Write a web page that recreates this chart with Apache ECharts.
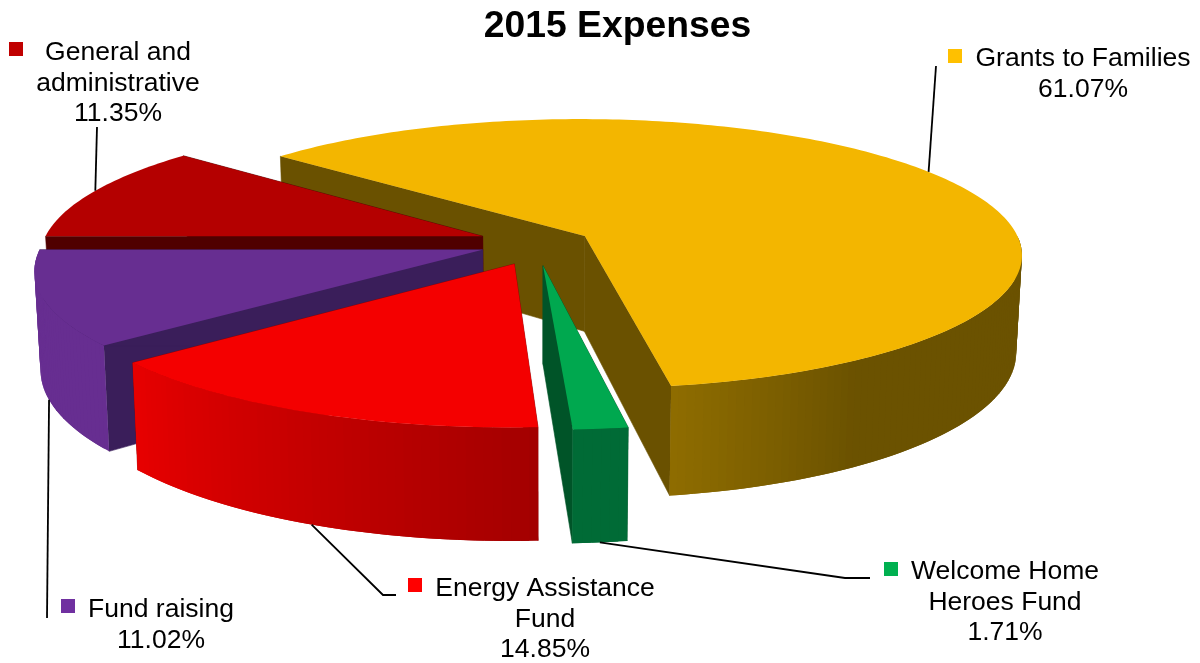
<!DOCTYPE html>
<html>
<head>
<meta charset="utf-8">
<style>html,body{margin:0;padding:0;background:#fff}#chart{width:1200px;height:663px}</style>
<script src="https://cdn.jsdelivr.net/npm/echarts@6/dist/echarts.min.js"></script>
</head>
<body>
<div id="chart"></div>
<script>
// Expense shares, in drawing order clockwise from the first cut.
const categories = ['Grants to Families', 'Welcome Home Heroes Fund', 'Energy Assistance Fund', 'Fund raising', 'General and administrative'];
const shares = [61.07, 1.71, 14.85, 11.02, 11.35];
const labelLines = [
  ['Grants to Families'],
  ['Welcome Home', 'Heroes Fund'],
  ['Energy Assistance', 'Fund'],
  ['Fund raising'],
  ['General and', 'administrative']
];

// Slice appearance.
const keyColors = ['#FFC000', '#00B050', '#FF0000', '#7030A0', '#C00000'];
const topColors = ['#F3B600', '#00A84F', '#F40000', '#672E91', '#B40000'];
const cutColors = ['#6A5100', '#005428', '#8A0000', '#3A1E5A', '#500000'];
// Outer wall shade as [clock angle, colour] stops.
const wallStops = [
  [[0, '#6B5200'], [147, '#6B5200'], [171, '#8F6D00']],
  [[0, '#006B36'], [360, '#006B36']],
  [[177, '#A30000'], [231, '#E80000']],
  [[0, '#672E91'], [360, '#672E91']],
  [[0, '#8A0000'], [360, '#8A0000']]
];
const explode = [0.107, 0.165, 0.165, 0.145, 0.145];
const sliceScale = [0.99, 1, 1, 1, 1];
const sliceShiftX = [2, -7, 2, 1, 0];

// Scene parameters: plan circle, tilt, perspective and rim depth.
const firstCut = 310.86;
const scene = { cx: 542, cy: 243, R: 440, tilt: 135.5, persp: 0.134, depth: 96, converge: 0.012 };

// Label placement: line-centre x, first-line y, key corner, leader's place on the rim and its elbow points.
const lineGap = 30.7;
const labelPlaces = [
  { x: 1083, y: 59, keyX: 948, keyY: 49, rim: 0, along: 0.491, leader: [[936, 66]] },
  { x: 1005, y: 571.5, keyX: 884, keyY: 562, rim: 1, along: 0.5, leader: [[845, 578], [870, 578]] },
  { x: 545, y: 588.5, keyX: 408, keyY: 578, rim: 1, along: 0.49, leader: [[383, 595], [396, 595]] },
  { x: 161, y: 609.5, keyX: 61, keyY: 599, rim: 1, along: 0.5, leader: [[47, 618]] },
  { x: 118, y: 52.5, keyX: 9, keyY: 42, rim: 0, along: 0.51, leader: [[97, 127]] }
];

const FONT = '"Liberation Sans", Arial, sans-serif';
const total = shares.reduce((a, b) => a + b, 0);
const rad = d => d * Math.PI / 180;

// Clock-angle span of each slice.
const spans = [];
shares.reduce((from, v) => {
  const to = from + v / total * 360;
  spans.push([from, to]);
  return to;
}, firstCut);

// Plan point -> screen point; z is 0 on the top face and 1 on the base.
function project(u, v, z) {
  const s = 1 / (1 - scene.persp * v);
  const k = 1 - scene.converge * z;
  return [
    scene.cx + scene.R * u * s * k,
    scene.cy + scene.tilt * v * s + z * scene.depth * s
  ];
}
function planAt(angle, r, off) {
  return [off[0] + r * Math.sin(rad(angle)), off[1] - r * Math.cos(rad(angle))];
}
function wallColor(stops, angle) {
  const a = ((angle % 360) + 360) % 360;
  for (let i = 1; i < stops.length; i++) {
    if (a <= stops[i][0]) {
      const t = (a - stops[i - 1][0]) / (stops[i][0] - stops[i - 1][0]);
      return echarts.color.lerp(Math.max(0, t), [stops[i - 1][1], stops[i][1]]);
    }
  }
  return stops[stops.length - 1][1];
}

function renderSlice(params, api) {
  const i = params.dataIndex;
  const [a0, a1] = spans[i];
  const mid = (a0 + a1) / 2;
  const off = planAt(mid, explode[i], [0, 0]);
  // Slices further from the viewer are painted first.
  const rank = Math.round((off[1] / explode[i] + 1) * 100);
  const base = rank * 10;
  const P = (angle, r, z) => {
    const p = planAt(angle, r * sliceScale[i], off);
    const q = project(p[0], p[1], z);
    return [q[0] + sliceShiftX[i], q[1]];
  };
  const children = [];
  const poly = (points, fill, z2, seal) => children.push({
    type: 'polygon', silent: true, z2: z2,
    shape: { points: points },
    style: seal ? { fill: fill, stroke: fill, lineWidth: 0.6 } : { fill: fill }
  });

  // Cut faces
  [a0, a1].forEach(a => {
    poly([P(a, 0, 0), P(a, 1, 0), P(a, 1, 1), P(a, 0, 1)], cutColors[i], base, true);
  });

  // Outer wall, only the part turned toward the viewer. Each strip runs
  // under the next one so no seams show between them.
  const step = 1;
  let strip = 0;
  for (let a = a0; a < a1; a += step) {
    const b = Math.min(a + step, a1);
    if (-Math.cos(rad((a + b) / 2)) < 0) continue;
    const over = Math.min(b + step, a1);
    poly([P(a, 1, 0), P(over, 1, 0), P(over, 1, 1), P(a, 1, 1)], wallColor(wallStops[i], (a + b) / 2), base + 1 + (++strip) * 0.001);
  }

  // Top face
  const top = [P(a0, 0, 0)];
  for (let a = a0; a < a1; a += step) top.push(P(a, 1, 0));
  top.push(P(a1, 1, 0));
  poly(top, topColors[i], base + 2);

  // Leader and label
  const place = labelPlaces[i];
  const start = P(a0 + (a1 - a0) * place.along, 1, place.rim);
  children.push({
    type: 'polyline', silent: true, z2: 5000,
    shape: { points: [start].concat(place.leader) },
    style: { stroke: '#000', lineWidth: 1.8, fill: null }
  });
  children.push({
    type: 'rect', silent: true, z2: 5000,
    shape: { x: place.keyX, y: place.keyY, width: 14, height: 14 },
    style: { fill: keyColors[i] }
  });
  labelLines[i].concat([api.value(0).toFixed(2) + '%']).forEach((line, n) => {
    children.push({
      type: 'text', silent: true, z2: 5000,
      style: {
        text: line, x: place.x, y: place.y + n * lineGap,
        align: 'center', verticalAlign: 'middle',
        fontFamily: FONT, fontSize: 26.5, fill: '#000'
      }
    });
  });
  return { type: 'group', children: children };
}

const chart = echarts.init(document.getElementById('chart'));
chart.setOption({
  animation: false,
  backgroundColor: '#fff',
  title: {
    text: '2015 Expenses',
    left: 612.5, top: 3, textAlign: 'center',
    textStyle: { fontFamily: FONT, fontSize: 37.3, fontWeight: 'bold', color: '#000' }
  },
  series: [{
    type: 'custom',
    coordinateSystem: 'none',
    renderItem: renderSlice,
    data: shares.map((v, i) => ({ name: categories[i], value: [v] }))
  }]
});
</script>
</body>
</html>
